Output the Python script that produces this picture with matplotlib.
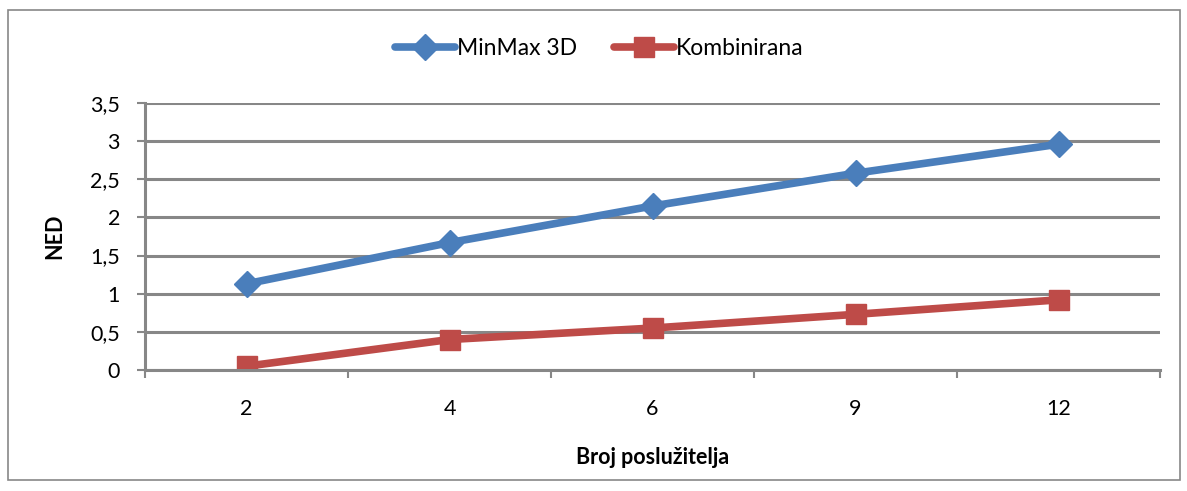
import matplotlib.pyplot as plt
from matplotlib.patches import Rectangle

kategorije = ['2', '4', '6', '9', '12']
minmax_3d = [1.13, 1.67, 2.15, 2.58, 2.96]
kombinirana = [0.05, 0.40, 0.55, 0.73, 0.92]
y_oznake = ['0', '0,5', '1', '1,5', '2', '2,5', '3', '3,5']

plt.rcParams['font.family'] = ['Lato', 'DejaVu Sans']

siva = '#878787'
fig = plt.figure(figsize=(11.87, 4.91), dpi=100)
ax = fig.add_axes([0.1222, 0.2464, 0.8551, 0.5438])

x = list(range(len(kategorije)))
ax.plot(x, minmax_3d, color='#4A7EBB', lw=5.5, marker='D', ms=13,
        label='MinMax 3D', solid_capstyle='round')
ax.plot(x, kombinirana, color='#BE4B48', lw=5.5, marker='s', ms=14,
        label='Kombinirana', solid_capstyle='round')

ax.set_xlim(-0.5, len(kategorije) - 0.5)
ax.set_ylim(0, 3.5)
ax.set_yticks([i * 0.5 for i in range(len(y_oznake))])
ax.set_yticklabels(y_oznake)
ax.set_xticks(x)
ax.set_xticklabels(kategorije)
ax.set_xticks([i - 0.5 for i in range(len(kategorije) + 1)], minor=True)
ax.tick_params(axis='x', which='major', length=0, pad=21, labelsize=15.5)
ax.tick_params(axis='x', which='minor', length=6, width=1.5, color=siva, direction='out')
ax.tick_params(axis='y', length=6, width=1.5, color=siva, labelsize=15.5, pad=12)

ax.grid(axis='y', color=siva, lw=2.2)
ax.set_axisbelow(True)
for s in ['top', 'right']:
    ax.spines[s].set_visible(False)
for s in ['left', 'bottom']:
    ax.spines[s].set_color(siva)
    ax.spines[s].set_linewidth(2.2)

ax.set_xlabel('Broj poslužitelja', fontsize=15.5, fontweight='bold', labelpad=20)
ax.set_ylabel('NED', fontsize=15.5, fontweight='bold', labelpad=18)

fig.legend(loc='center', bbox_to_anchor=(0.505, 0.902), ncol=2, frameon=False,
           fontsize=16.5, handlelength=2.6, columnspacing=1.6, handletextpad=0.1)

fig.patches.append(Rectangle((8 / 1187, 11 / 491), 1172 / 1187, 470 / 491,
                             transform=fig.transFigure, fill=False,
                             edgecolor=siva, lw=1.2))

plt.savefig('out.png', dpi=100)
